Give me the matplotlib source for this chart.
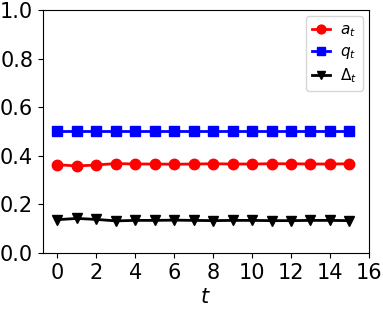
import matplotlib
matplotlib.use("Agg")
import matplotlib.pyplot as plt

t = list(range(16))
a_t = [0.363, 0.358, 0.362, 0.368, 0.366, 0.366, 0.365, 0.366,
       0.367, 0.366, 0.366, 0.367, 0.367, 0.366, 0.366, 0.367]
q_t = [0.5] * 16
delta_t = [q - a for q, a in zip(q_t, a_t)]

plt.rcParams['font.size'] = 15
fig, ax = plt.subplots(figsize=(3.83, 3.10), dpi=100)
ax.plot(t, a_t, 'ro-', label=r'$a_t$', markersize=7.5, lw=2)
ax.plot(t, q_t, 'bs-', label=r'$q_t$', markersize=7.5, lw=2)
ax.plot(t, delta_t, 'kv-', label=r'$\Delta_t$', markersize=7.5, lw=2)
ax.set_ylim(0, 1.0)
ax.set_xlim(-0.75, 16)
ax.set_xticks(range(0, 17, 2))
ax.set_xlabel(r'$t$', labelpad=3)
ax.legend(loc='upper right', fontsize=11, handlelength=1.2, markerscale=0.85,
          borderaxespad=0.4, handletextpad=0.6, labelspacing=0.35,
          borderpad=0.4)
fig.subplots_adjust(left=0.112, right=0.963, top=0.968, bottom=0.184)
fig.savefig('out.png', dpi=100)
